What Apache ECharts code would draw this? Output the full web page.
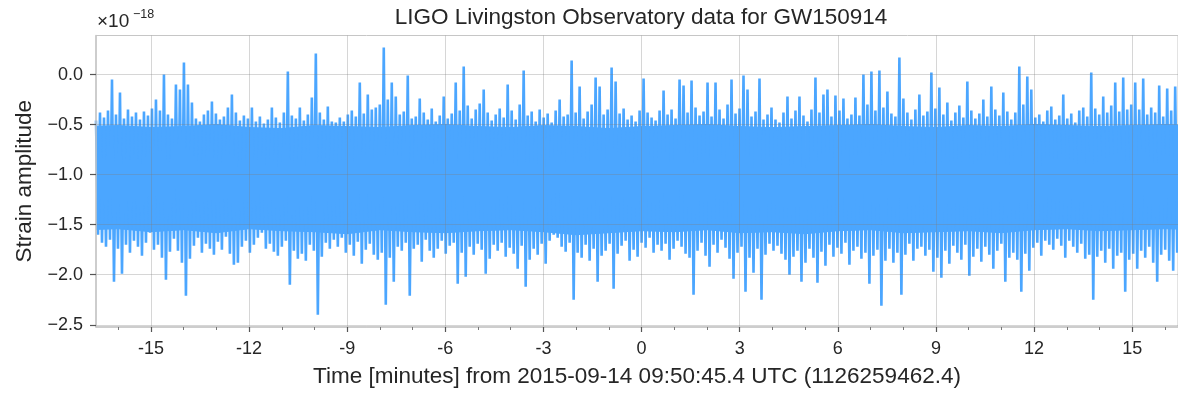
<!DOCTYPE html>
<html>
<head>
<meta charset="utf-8">
<script src="https://cdn.jsdelivr.net/npm/echarts@6/dist/echarts.min.js"></script>
<style>
html,body{margin:0;padding:0;background:#fff;}
#chart{width:1178px;height:393px;}
</style>
</head>
<body>
<div id="chart"></div>
<script>
// ---------------- data ----------------
const chartTitle = 'LIGO Livingston Observatory data for GW150914';
const xAxisName = 'Time [minutes] from 2015-09-14 09:50:45.4 UTC (1126259462.4)';
const yAxisName = 'Strain amplitude';
const xMajorTicks = [-15, -12, -9, -6, -3, 0, 3, 6, 9, 12, 15];
const xMinorTicks = [-16, -14, -13, -11, -10, -8, -7, -5, -4, -2, -1, 1, 2, 4, 5, 7, 8, 10, 11, 13, 14, 16];
const yTicks = [-2.5, -2.0, -1.5, -1.0, -0.5, 0.0];
const xRange = [-16.68, 16.40];          // minutes
const yRange = [-2.522, 0.39];           // x1e-18
const sampleStart = -16.68;              // minutes, time of first upper excursion
const sampleStep = 0.1222;               // minutes between successive upper excursions

// upper excursions of the strain, in units of 1e-20 (one per sample step)
const upperStrain = [
 -46,-38,-43,-36,-5,-40,-18,-44,-35,-42,
 -38,-45,-37,-41,-34,-25,-36,0,-40,-44,
 -10,-15,12,-10,-28,-44,-47,-40,-36,-27,
 -39,-45,-42,-33,-20,-38,-46,-41,-44,-33,
 -47,-42,-49,-45,-33,-43,-48,-38,3,-41,
 -44,-33,-46,-40,-23,21,-38,-45,-32,-47,
 -48,-43,-47,-40,-36,-42,-8,-39,-20,-35,
 -33,-30,27,-25,-8,-22,-40,-37,-1,-44,
 -42,-24,-38,-45,-34,-47,-41,-22,-44,-39,
 -8,-36,8,-31,-44,-35,-29,-15,-38,-46,
 -40,-34,-43,-10,-36,-45,-30,4,-41,-37,
 -47,-35,-43,-39,-48,-36,-25,-42,-40,14,
 -38,-12,-44,-37,-30,-3,-12,-40,-35,7,
 -7,-39,-34,-45,-41,-47,-36,-4,-38,-43,
 -46,-36,-16,-40,-35,-44,-5,-11,-38,-6,
 -33,-41,-37,-8,-42,-8,-35,-44,-30,-5,
 -39,-34,-1,-15,-42,-37,-4,-45,-40,-33,
 -45,-48,-38,-22,-44,-36,-22,-41,-47,-35,
 -3,-38,-20,-15,-42,-21,-36,-24,-44,-40,
 -23,-41,0,-30,3,-36,4,-33,-17,-39,
 -42,17,-24,-38,-45,-35,-20,-41,-37,2,
 -34,-13,-40,-28,-46,-38,-31,-43,-7,-36,
 -44,-39,-25,-42,-12,-35,-41,-18,-37,-45,
 -38,8,-30,-2,-15,-43,-40,-47,-36,-32,
 -45,-41,-20,-44,-39,-48,-36,-33,-42,2,
 -34,-40,-22,-38,-31,-8,-37,-3,-35,-30,
 -8,-35,-4,-40,-33,-38,-11,-42,-14,-36,-12
];
// lower excursions of the strain, in units of 1e-20 (half a step after each upper one)
const lowerStrain = [
 -160,-168,-172,-165,-207,-174,-199,-170,-178,-166,
 -172,-181,-168,-158,-175,-170,-183,-205,-177,-164,
 -176,-188,-221,-184,-171,-163,-178,-169,-174,-180,
 -167,-175,-162,-179,-190,-188,-172,-166,-178,-170,
 -163,-158,-174,-169,-177,-181,-172,-166,-210,-176,
 -184,-179,-186,-170,-176,-240,-182,-168,-174,-165,
 -172,-163,-178,-170,-181,-167,-189,-175,-169,-180,
 -185,-178,-230,-183,-207,-172,-176,-168,-221,-174,
 -170,-187,-165,-176,-183,-174,-166,-179,-171,-168,
 -209,-178,-202,-172,-180,-169,-175,-199,-184,-170,
 -176,-168,-182,-173,-179,-194,-171,-212,-185,-174,
 -180,-169,-189,-166,-160,-163,-172,-177,-168,-225,
 -178,-183,-170,-186,-174,-207,-181,-176,-169,-214,
 -179,-171,-166,-186,-175,-182,-168,-173,-163,-178,
 -170,-176,-169,-185,-174,-166,-172,-179,-183,-220,
 -176,-168,-181,-192,-170,-178,-165,-173,-184,-204,
 -178,-172,-217,-183,-198,-174,-225,-180,-169,-176,
 -171,-179,-185,-200,-182,-176,-207,-188,-174,-183,
 -208,-177,-191,-170,-182,-173,-179,-168,-190,-176,
 -172,-184,-178,-209,-181,-175,-231,-186,-174,-188,
 -178,-220,-180,-169,-186,-174,-172,-181,-175,-197,
 -183,-203,-176,-189,-171,-178,-185,-170,-201,-182,
 -174,-187,-172,-180,-194,-176,-169,-207,-183,-178,
 -185,-217,-179,-196,-173,-168,-181,-166,-170,-175,
 -164,-171,-183,-166,-172,-178,-169,-184,-180,-225,
 -182,-176,-188,-174,-194,-181,-178,-217,-185,-179,
 -194,-176,-183,-172,-188,-207,-180,-175,-186,-196,-178
];
// edges of the densely filled core of the trace, one per minute from -17 to +17 (units 1e-20)
const coreMinutes = [-17,-16,-15,-14,-13,-12,-11,-10,-9,-8,-7,-6,-5,-4,-3,-2,-1,0,1,2,3,4,5,6,7,8,9,10,11,12,13,14,15,16,17];
const coreTop = [-52,-51,-53,-52,-50,-53,-54,-51,-52,-53,-51,-50,-52,-53,-51,-52,-54,-52,-51,-50,-52,-53,-52,-51,-50,-52,-53,-51,-52,-50,-51,-52,-51,-50,-51];
const coreBottom = [-155,-154,-157,-155,-158,-154,-156,-157,-159,-155,-157,-158,-156,-155,-157,-160,-158,-156,-157,-155,-158,-157,-159,-156,-155,-158,-157,-156,-158,-155,-154,-156,-155,-154,-155];

// ---------------- build series ----------------
const strainSeries = [];
const n = Math.min(upperStrain.length, lowerStrain.length);
for (let i = 0; i < n; i++) {
  strainSeries.push([sampleStart + i * sampleStep, upperStrain[i] / 100]);
  strainSeries.push([sampleStart + (i + 0.5) * sampleStep, lowerStrain[i] / 100]);
}
// one quadrilateral per minute: [t, top, bottom, tNext, topNext, bottomNext]
const coreCells = [];
for (let i = 0; i + 1 < coreMinutes.length; i++) {
  coreCells.push([coreMinutes[i], coreTop[i] / 100, coreBottom[i] / 100,
                  coreMinutes[i + 1], coreTop[i + 1] / 100, coreBottom[i + 1] / 100]);
}

const BLUE = '#4ba6ff';
const FONT = '"Liberation Sans", Arial, Helvetica, sans-serif';
const TEXT = '#262626';
const SPINE = '#c6c6c6';
const TICK = '#555555';
const GRIDC = 'rgba(128,128,128,0.32)';

const chart = echarts.init(document.getElementById('chart'), null, {renderer: 'canvas'});
chart.setOption({
  animation: false,
  backgroundColor: '#ffffff',
  textStyle: {fontFamily: FONT},
  grid: {left: 96, right: -1, top: 35.5, bottom: 62.5, show: true,
         borderColor: SPINE, borderWidth: 1, backgroundColor: 'transparent'},
  graphic: [
    {type: 'text', x: 641, y: 18, z: 10,
     style: {text: chartTitle, fontSize: 22.5, fontFamily: FONT, fill: TEXT,
             align: 'center', verticalAlign: 'middle'}},
    {type: 'text', x: 97, y: 22, z: 10,
     style: {text: '\u00d710', fontSize: 19, fontFamily: FONT, fill: TEXT,
             align: 'left', verticalAlign: 'middle'}},
    {type: 'text', x: 133, y: 15, z: 10,
     style: {text: '\u221218', fontSize: 12.5, fontFamily: FONT, fill: TEXT,
             align: 'left', verticalAlign: 'middle'}}
  ],
  xAxis: [
    {
      type: 'value', min: xRange[0], max: xRange[1], position: 'bottom', z: 3,
      axisLine: {show: true, onZero: false, lineStyle: {color: SPINE, width: 1.5}},
      axisTick: {show: true, customValues: xMajorTicks, length: 5,
                 lineStyle: {color: TICK, width: 1.2}},
      axisLabel: {customValues: xMajorTicks, formatter: v => String(v),
                  fontSize: 18, color: TEXT, fontFamily: FONT, margin: 13},
      splitLine: {show: true, lineStyle: {color: GRIDC, width: 1}},
      name: xAxisName, nameLocation: 'middle', nameGap: 38,
      nameTextStyle: {fontSize: 22.5, color: TEXT, fontFamily: FONT}
    },
    {
      type: 'value', min: xRange[0], max: xRange[1], position: 'bottom', z: 3,
      axisLine: {show: false, onZero: false},
      axisTick: {show: true, customValues: xMinorTicks, length: 3,
                 lineStyle: {color: '#777777', width: 1}},
      axisLabel: {show: false},
      splitLine: {show: false}
    }
  ],
  yAxis: {
    type: 'value', min: yRange[0], max: yRange[1], z: 3,
    axisLine: {show: true, onZero: false, lineStyle: {color: SPINE, width: 1.5}},
    axisTick: {show: true, customValues: yTicks, length: 6,
               lineStyle: {color: TICK, width: 1.2}},
    axisLabel: {customValues: yTicks,
                formatter: v => (Math.abs(v) < 1e-9 ? '0.0' : v.toFixed(1).replace('-', '\u2212')),
                fontSize: 18, color: TEXT, fontFamily: FONT, margin: 13},
    splitLine: {show: true, lineStyle: {color: GRIDC, width: 1}},
    name: yAxisName, nameLocation: 'middle', nameGap: 58, nameRotate: 90,
    nameTextStyle: {fontSize: 22.5, color: TEXT, fontFamily: FONT}
  },
  series: [
    {
      type: 'custom', name: 'core', xAxisIndex: 0, yAxisIndex: 0,
      data: coreCells, clip: true, silent: true, z: 1,
      encode: {x: [0, 3], y: [1, 2, 4, 5]},
      renderItem: function (params, api) {
        const pts = [
          api.coord([api.value(0), api.value(1)]),
          api.coord([api.value(3), api.value(4)]),
          api.coord([api.value(3), api.value(5)]),
          api.coord([api.value(0), api.value(2)])
        ];
        return {type: 'polygon', shape: {points: pts},
                style: {fill: BLUE, stroke: BLUE, lineWidth: 1}};
      }
    },
    {
      type: 'line', name: 'strain', xAxisIndex: 0, yAxisIndex: 0,
      data: strainSeries, showSymbol: false, symbol: 'none',
      lineStyle: {color: BLUE, width: 2.6, join: 'bevel'},
      itemStyle: {color: BLUE},
      silent: true, clip: true, z: 2
    }
  ]
});
</script>
</body>
</html>
